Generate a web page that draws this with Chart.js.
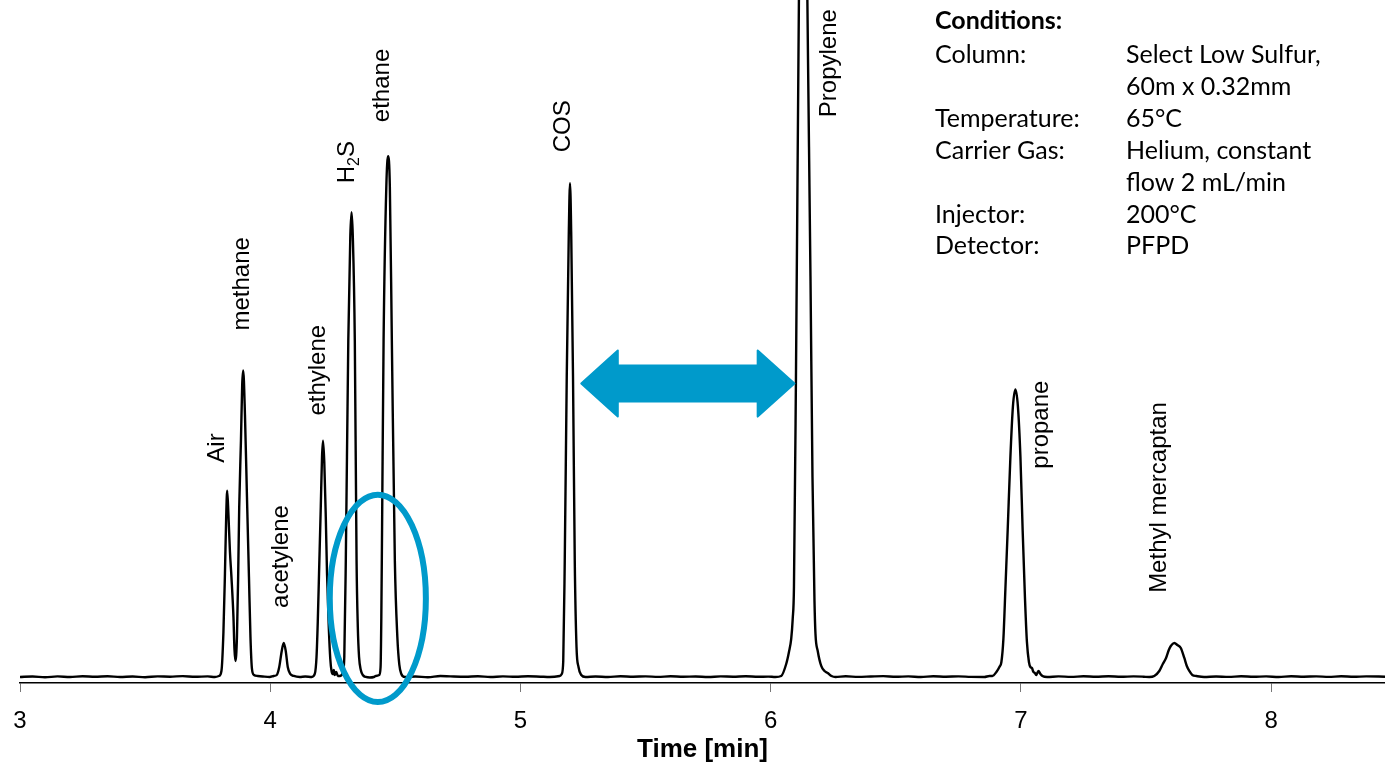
<!DOCTYPE html>
<html lang="en">
<head>
<meta charset="UTF-8" />
<title>GC chromatogram - sulfur in propylene</title>
<script src="https://cdn.jsdelivr.net/npm/chart.js@4.4.1/dist/chart.umd.min.js"></script>
<style>
  html, body { margin: 0; padding: 0; background: #fff; }
  #wrap { width: 1385px; height: 764px; }
</style>
</head>
<body>
<div id="wrap"><canvas id="chromChart" width="1385" height="764"></canvas></div>
<script>
// retention time [min] and detector signal (arbitrary units)
const retentionTime = [
  3.000, 3.050, 3.100, 3.150, 3.200, 3.250, 3.300, 3.350, 3.400, 3.450, 3.500, 3.550, 3.600, 3.650, 3.700, 3.750, 3.779,
  3.795, 3.805, 3.813, 3.819, 3.824, 3.828, 3.833, 3.839, 3.845, 3.853, 3.857, 3.861, 3.867, 3.872, 3.876, 3.883, 3.888, 3.892, 3.899, 3.907, 3.915, 3.921, 3.927, 3.935, 3.950, 3.970,
  3.998, 4.014, 4.026, 4.036, 4.046, 4.054, 4.062, 4.070, 4.080, 4.094, 4.118, 4.140,
  4.166, 4.178, 4.185, 4.190, 4.195, 4.202, 4.207, 4.211, 4.216, 4.222, 4.227, 4.234, 4.240, 4.245, 4.250, 4.254, 4.258, 4.264, 4.270,
  4.278, 4.290, 4.296, 4.302, 4.312, 4.320, 4.325, 4.330, 4.338, 4.345, 4.350, 4.355, 4.362, 4.370, 4.382, 4.398, 4.414,
  4.422, 4.436, 4.441, 4.444, 4.447, 4.453, 4.464, 4.471, 4.478, 4.486, 4.498, 4.508, 4.516, 4.524, 4.538,
  4.580, 4.630, 4.680, 4.720, 4.780, 4.830, 4.880, 4.930, 4.980, 5.030, 5.080, 5.117,
  5.157, 5.165, 5.171, 5.177, 5.185, 5.193, 5.198, 5.203, 5.210, 5.217, 5.224, 5.232, 5.243, 5.260,
  5.300, 5.350, 5.400, 5.450, 5.500, 5.550, 5.600, 5.650, 5.700, 5.750, 5.800, 5.850, 5.900, 5.950, 5.990, 6.019,
  6.042, 6.062, 6.073, 6.082, 6.088, 6.093, 6.101, 6.111, 6.119, 6.130, 6.139, 6.149, 6.159, 6.167, 6.175, 6.179, 6.188, 6.202, 6.215, 6.228, 6.243, 6.259,
  6.300, 6.350, 6.400, 6.450, 6.500, 6.550, 6.600, 6.650, 6.700, 6.750, 6.800, 6.854,
  6.874, 6.886, 6.902, 6.914, 6.922, 6.930, 6.938, 6.947, 6.958, 6.968, 6.978, 6.988, 6.998, 7.007, 7.016, 7.024, 7.032, 7.038, 7.044, 7.050, 7.056, 7.061, 7.070, 7.078, 7.086, 7.105,
  7.150, 7.200, 7.250, 7.300, 7.350, 7.400, 7.450, 7.490, 7.513,
  7.533, 7.553, 7.567, 7.580, 7.591, 7.599, 7.613, 7.625, 7.639, 7.653, 7.663, 7.673, 7.685, 7.701, 7.732,
  7.780, 7.830, 7.880, 7.930, 7.980, 8.030, 8.080, 8.130, 8.180, 8.230, 8.280, 8.330, 8.380, 8.455
];
const signal = [
  0, 0.5, -0.3, 0.6, 0, 0.8, 0.2, 0.7, 0, 0.5, -0.2, 0.6, 0.3, 0.9, 0.2, 0.6, 0,
  1, 6, 45, 103, 160, 186, 162, 125, 100, 60, 28, 16, 40, 103, 169, 236, 292, 306, 262, 180, 100, 40, 8, 2, 1, 0.5,
  0, 1, 2, 10, 26, 34, 26, 10, 3, 1, 0, 0.5,
  0, 3, 20, 55, 103, 170, 220, 236, 215, 160, 103, 50, 18, 6, 3, 7, 2, 5, 1,
  1, 4, 20, 116, 336, 440, 464, 440, 336, 116, 50, 20, 7, 2, 0, -0.5, 0,
  1, 2, 10, 60, 150, 336, 490, 520, 490, 336, 116, 40, 12, 3, 0,
  0.5, -0.3, 1, 0.6, 0.2, 0.8, 0, 0.6, 0.2, 0.7, 0.3, 0,
  1, 3, 16, 116, 300, 440, 493, 440, 300, 116, 30, 10, 2, 0,
  0.5, 0, 0.8, 0.3, 0.6, 0.1, 0.7, 0.2, 0.5, 0, 0.6, 0.3, 0.7, 0.2, 0.4, 0,
  1, 13, 25, 38, 58, 90, 300, 620, 850, 1000, 850, 620, 400, 200, 76, 43, 26, 11, 6, 4, 1, 0,
  0.7, 0.1, 0.5, 0.9, 0.2, 0.6, 0, 0.8, 0.3, 0.6, 0.1, 0,
  1, 1, 5, 10, 15, 38, 88, 146, 220, 270, 287, 270, 220, 146, 80, 35, 15, 10, 9, 5, 4, 2, 6, 3, 1, 0,
  0.6, 0.1, 0.7, 0.3, 0.8, 0.2, 0.6, 0.3, 0,
  1, 6, 13, 19, 27, 31, 34, 32, 29, 19, 11, 6, 2, 1, 0,
  0.5, 0.1, 0.7, 0.2, 0.6, 0, 0.8, 0.3, 0.6, 0.1, 0.7, 0.2, 0.6, 0.3
];
const timeTicks = [3, 4, 5, 6, 7, 8];
const peakNames = ["Air", "methane", "acetylene", "ethylene", "H2S", "ethane", "COS", "Propylene", "propane", "Methyl mercaptan"];

const conditions = [
  ["Column:", "Select Low Sulfur,"],
  ["", "60m x 0.32mm"],
  ["Temperature:", "65°C"],
  ["Carrier Gas:", "Helium, constant"],
  ["", "flow 2 mL/min"],
  ["Injector:", "200°C"],
  ["Detector:", "PFPD"]
];

// where each peak name starts (time, signal level); text runs upward
const labelAnchors = [
  [3.787, 214], [3.887, 346], [4.046, 69], [4.194, 261], [4.310, 493],
  [4.450, 554], [5.173, 524], [6.235, 559], [7.081, 208], [7.553, 84]
];

const ARIAL = "'Liberation Sans', Arial, sans-serif";
const BLUE = "#009acb";

const annotations = {
  id: "annotations",
  afterDatasetsDraw(chart) {
    const { ctx, scales: { x, y } } = chart;
    ctx.save();

    // highlight ellipse round the H2S / ethane gap
    const cx = x.getPixelForValue(4.430), cy = y.getPixelForValue(78.5);
    const rx = x.getPixelForValue(4.430 + 0.192) - cx;
    const ry = cy - y.getPixelForValue(78.5 + 103.5);
    ctx.beginPath();
    ctx.ellipse(cx, cy, rx, ry, 0, 0, Math.PI * 2);
    ctx.strokeStyle = BLUE;
    ctx.lineWidth = 6;
    ctx.stroke();

    // double arrow between COS and propylene
    const xl = x.getPixelForValue(5.243), xr = x.getPixelForValue(6.095);
    const hl = x.getPixelForValue(5.389), hr = x.getPixelForValue(5.948);
    const ym = y.getPixelForValue(293);
    const head = ym - y.getPixelForValue(293 + 33), shaft = ym - y.getPixelForValue(293 + 18);
    ctx.beginPath();
    ctx.moveTo(xl, ym);
    ctx.lineTo(hl, ym - head);
    ctx.lineTo(hl, ym - shaft);
    ctx.lineTo(hr, ym - shaft);
    ctx.lineTo(hr, ym - head);
    ctx.lineTo(xr, ym);
    ctx.lineTo(hr, ym + head);
    ctx.lineTo(hr, ym + shaft);
    ctx.lineTo(hl, ym + shaft);
    ctx.lineTo(hl, ym + head);
    ctx.closePath();
    ctx.fillStyle = BLUE;
    ctx.fill();
    ctx.lineJoin = "round";
    ctx.lineWidth = 2;
    ctx.stroke();

    // peak names, rotated
    ctx.fillStyle = "#000";
    ctx.textBaseline = "middle";
    ctx.textAlign = "left";
    peakNames.forEach((name, i) => {
      const px = x.getPixelForValue(labelAnchors[i][0]);
      const py = y.getPixelForValue(labelAnchors[i][1]);
      ctx.save();
      ctx.translate(px, py);
      ctx.rotate(-Math.PI / 2);
      ctx.font = "24px " + ARIAL;
      if (name === "H2S") {
        const w = ctx.measureText("H").width;
        ctx.fillText("H", 0, 0);
        ctx.font = "16px " + ARIAL;
        ctx.fillText("2", w, 7);
        const w2 = ctx.measureText("2").width;
        ctx.font = "24px " + ARIAL;
        ctx.fillText("S", w + w2, 0);
      } else {
        ctx.fillText(name, 0, 0);
      }
      ctx.restore();
    });

    // conditions block
    ctx.font = "bold 25px Lato, 'Open Sans', sans-serif";
    ctx.fillText("Conditions:", 935, 21);
    ctx.font = "25px Lato, 'Open Sans', sans-serif";
    conditions.forEach((row, i) => {
      const ty = 55 + i * 31.9;
      ctx.fillText(row[0], 935, ty);
      ctx.fillText(row[1], 1126, ty);
    });

    ctx.restore();
  }
};

new Chart(document.getElementById("chromChart"), {
  type: "line",
  data: {
    datasets: [{
      data: retentionTime.map((t, i) => ({ x: t, y: signal[i] })),
      borderColor: "#000",
      borderWidth: 2.4,
      pointRadius: 0,
      fill: false,
      cubicInterpolationMode: "monotone"
    }]
  },
  options: {
    responsive: false,
    animation: false,
    devicePixelRatio: 1,
    layout: { padding: { left: 20, right: 0, top: 0, bottom: 0 } },
    plugins: { legend: { display: false }, tooltip: { enabled: false } },
    scales: {
      x: {
        type: "linear",
        min: 3,
        max: 8.455,
        afterBuildTicks: (scale) => { scale.ticks = timeTicks.map(v => ({ value: v })); },
        afterFit: (scale) => { scale.paddingLeft = 0; scale.paddingRight = 0; },
        grid: { drawOnChartArea: false, drawTicks: true, tickLength: 9, color: "#777" },
        border: { display: true, color: "#000", width: 1.5 },
        ticks: { font: { family: ARIAL, size: 24, lineHeight: 1 }, color: "#000", padding: 17, maxRotation: 0 },
        title: {
          display: true,
          text: "Time [min]",
          color: "#000",
          font: { family: ARIAL, size: 26, weight: "bold", lineHeight: 1 },
          padding: { top: -13, bottom: 1 }
        }
      },
      y: { display: false, min: -6, max: 676 }
    }
  },
  plugins: [annotations]
});
</script>
</body>
</html>
